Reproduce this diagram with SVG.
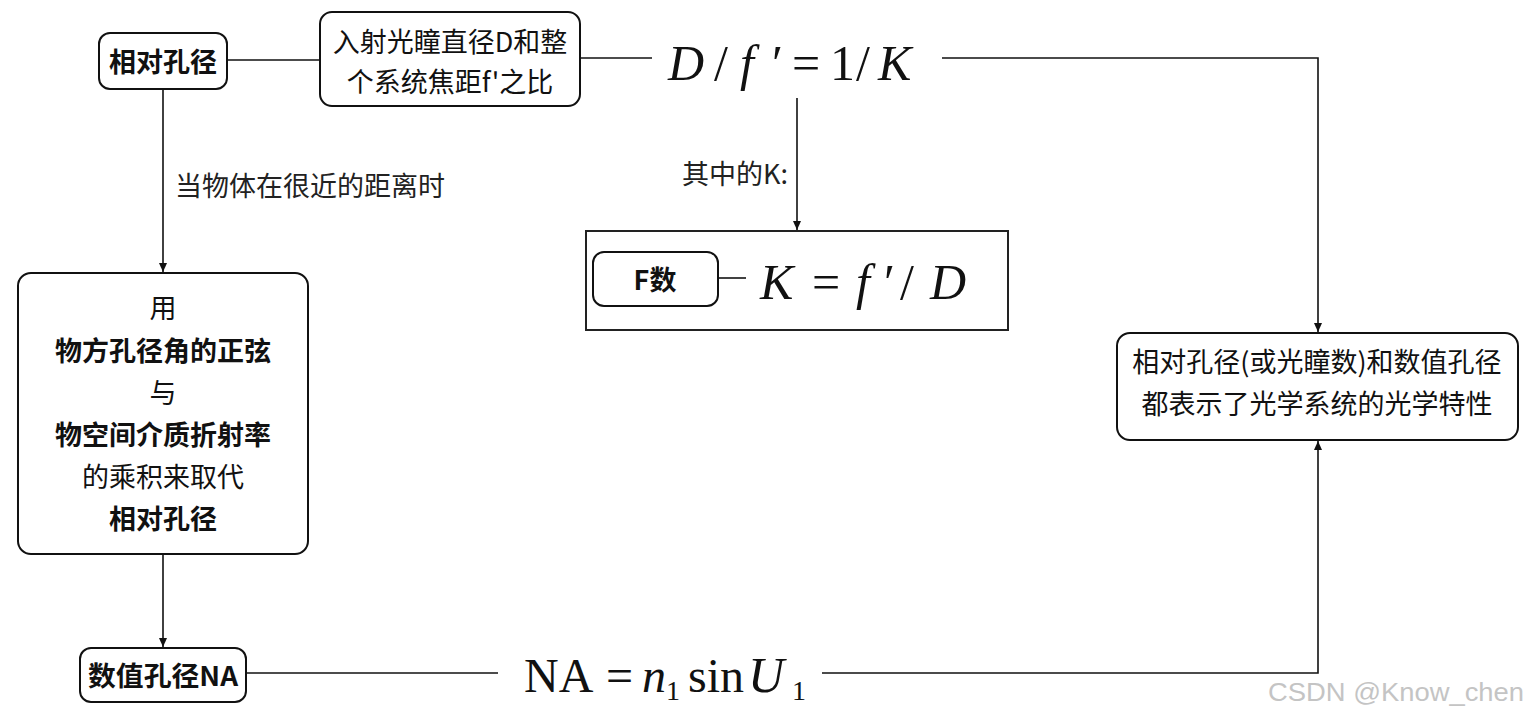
<svg xmlns="http://www.w3.org/2000/svg" width="1531" height="720" viewBox="0 0 1531 720">
<defs>
<style>
.box{fill:#fff;stroke:#111;stroke-width:2}
.frame{fill:none;stroke:#222;stroke-width:2}
.cn{font-family:"Noto Sans CJK SC","Noto Sans",sans-serif;font-size:27px;fill:#111;text-anchor:middle;dominant-baseline:central}
.b{font-weight:bold}
.lbl{font-family:"Noto Sans CJK SC","Noto Sans",sans-serif;font-size:27px;fill:#222;dominant-baseline:central}
.math{font-family:"Liberation Serif","Times New Roman",serif;fill:#111}
.it{font-style:italic}
.con{fill:none;stroke:#111;stroke-width:1.6}
.wm{font-family:"Liberation Sans",Arial,sans-serif;font-size:26px;fill:#c4c4c4}
</style>
<marker id="arr" markerWidth="10" markerHeight="10" refX="9" refY="5" orient="auto" markerUnits="userSpaceOnUse">
<path d="M0,1 L9,5 L0,9 Z" fill="#111"/>
</marker>
</defs>
<rect width="1531" height="720" fill="#fff"/>

<g id="connectors">
<line class="con" x1="227" y1="60" x2="320" y2="60"/>
<line class="con" x1="580" y1="58" x2="652" y2="58"/>
<polyline class="con" points="942,58 1318,58 1318,332" marker-end="url(#arr)"/>
<line class="con" x1="797" y1="98" x2="797" y2="230" marker-end="url(#arr)"/>
<line class="con" x1="718" y1="278" x2="746" y2="278"/>
<line class="con" x1="163" y1="89" x2="163" y2="272" marker-end="url(#arr)"/>
<line class="con" x1="163" y1="554" x2="163" y2="647" marker-end="url(#arr)"/>
<line class="con" x1="246" y1="673" x2="498" y2="673"/>
<polyline class="con" points="822,673 1318,673 1318,441" marker-end="url(#arr)"/>
<text class="lbl" x="682" y="172">其中的K:</text>
<text class="lbl" x="175" y="184">当物体在很近的距离时</text>
</g>

<g id="node-relative-aperture">
<rect class="box" x="99" y="33" width="128" height="56" rx="11"/>
<text class="cn b" x="163" y="60">相对孔径</text>
</g>

<g id="node-definition">
<rect class="box" x="320" y="12" width="260" height="94" rx="12"/>
<text class="cn" x="450" y="40">入射光瞳直径D和整</text>
<text class="cn" x="450" y="80">个系统焦距f'之比</text>
</g>

<g id="node-formula-dk">
<text class="math" y="80" font-size="50"><tspan class="it" x="668">D</tspan><tspan x="714">/</tspan><tspan class="it" x="740">f</tspan><tspan x="772">′</tspan><tspan x="792">=</tspan><tspan x="830">1</tspan><tspan x="856">/</tspan><tspan class="it" x="878">K</tspan></text>
</g>

<g id="node-f-number">
<rect class="frame" x="586" y="231" width="422" height="99"/>
<rect class="box" x="593" y="252" width="125" height="54" rx="11"/>
<text class="cn b" x="655" y="278">F数</text>
<text class="math" y="299" font-size="50"><tspan class="it" x="760">K</tspan><tspan x="812">=</tspan><tspan class="it" x="856">f</tspan><tspan x="884">′</tspan><tspan x="900">/</tspan><tspan class="it" x="930">D</tspan></text>
</g>

<g id="node-replace">
<rect class="box" x="18" y="273" width="290" height="281" rx="13"/>
<text class="cn" x="163" y="306">用</text>
<text class="cn b" x="163" y="349">物方孔径角的正弦</text>
<text class="cn" x="163" y="391">与</text>
<text class="cn b" x="163" y="433">物空间介质折射率</text>
<text class="cn" x="163" y="475">的乘积来取代</text>
<text class="cn b" x="163" y="517">相对孔径</text>
</g>

<g id="node-na">
<rect class="box" x="80" y="648" width="166" height="54" rx="11"/>
<text class="cn b" x="163" y="674" textLength="150" lengthAdjust="spacingAndGlyphs">数值孔径NA</text>
</g>

<g id="node-formula-na">
<text class="math" y="692" font-size="48"><tspan x="524">NA</tspan><tspan x="606">=</tspan><tspan class="it" x="642">n</tspan><tspan x="666" dy="8" font-size="28">1</tspan><tspan x="688" dy="-8">sin</tspan><tspan class="it" x="748" font-size="50">U</tspan><tspan x="792" dy="8" font-size="28">1</tspan></text>
</g>

<g id="node-conclusion">
<rect class="box" x="1117" y="333" width="401" height="107" rx="13"/>
<text class="cn" x="1317" y="360">相对孔径(或光瞳数)和数值孔径</text>
<text class="cn" x="1317" y="402">都表示了光学系统的光学特性</text>
</g>

<text class="wm" x="1268" y="701" textLength="256" lengthAdjust="spacingAndGlyphs">CSDN @Know_chen</text>
</svg>
